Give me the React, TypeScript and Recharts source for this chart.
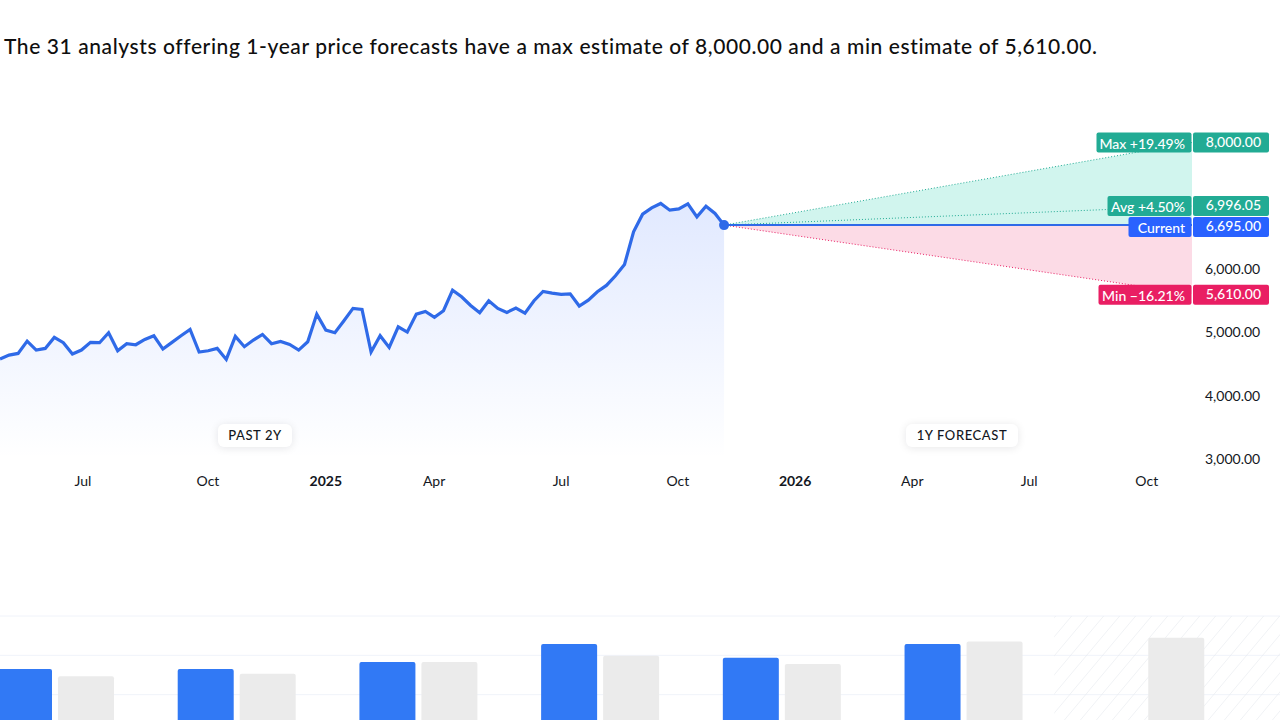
import React from "react";
import {
  Area, Bar, BarChart, CartesianGrid, ComposedChart, Line, ReferenceArea, ReferenceDot, XAxis, YAxis,
} from "recharts";

const FONT = "Lato, 'Noto Sans', sans-serif";
const INK = "#131722";

const priceValues = [
  4579, 4642, 4668, 4863, 4721, 4747, 4921, 4837, 4658, 4721, 4842, 4837, 4995, 4710, 4821, 4805, 4889,
  4947, 4737, 4842, 4947, 5047, 4689, 4710, 4747, 4573, 4937, 4774, 4879, 4968, 4821, 4858, 4810, 4721,
  4852, 5289, 5037, 4995, 5184, 5379, 5363, 4689, 4947, 4763, 5089, 5005, 5289, 5331, 5237, 5342, 5668,
  5563, 5426, 5310, 5500, 5379, 5316, 5384, 5305, 5500, 5647, 5621, 5600, 5610, 5416, 5510, 5642, 5742,
  5894, 6073, 6589, 6868, 6968, 7037, 6931, 6952, 7031, 6826, 6994, 6879, 6695,
];
const lastWeek = 80;
const forecastWeek = 131.7;
const currentPrice = 6695;
const maxEstimate = 8000;
const avgEstimate = 6996.05;
const minEstimate = 5610;

const monthTicks = [9.17, 22.98, 36, 47.96, 61.99, 74.9, 87.85, 100.8, 113.7, 126.7];
const monthLabels = ["Jul", "Oct", "2025", "Apr", "Jul", "Oct", "2026", "Apr", "Jul", "Oct"];
const priceTicks = [3000, 4000, 5000, 6000];

// Q8 stays empty, it only carries the hatch out to the page edge
const quarters = ["Q1", "Q2", "Q3", "Q4", "Q5", "Q6", "Q7", "Q8"];
const actualBars = [165, 165, 183, 229, 194, 229, null, null];
const estimateBars = [147, 153, 183, 199, 178, 235, 245, null];
const barGrid = [100, 200, 300];

const priceRows = priceValues.map((price, week) => ({ week, price } as any));
Object.assign(priceRows[lastWeek], {
  up: [currentPrice, currentPrice], down: [currentPrice, currentPrice],
  max: currentPrice, avg: currentPrice, min: currentPrice, current: currentPrice,
});
const rows = [
  ...priceRows,
  {
    week: forecastWeek,
    up: [currentPrice, maxEstimate], down: [minEstimate, currentPrice],
    max: maxEstimate, avg: avgEstimate, min: minEstimate, current: currentPrice,
  },
];
const barRows = quarters.map((q, i) => ({ q, actual: actualBars[i], estimate: estimateBars[i] }));

const money = (v: number) => v.toLocaleString("en-US", { minimumFractionDigits: 2, maximumFractionDigits: 2 });

function MonthTick({ x, y, payload }: any) {
  const label = monthLabels[monthTicks.indexOf(payload.value)];
  const bold = label.length === 4;
  return (
    <text x={x} y={y} dy={7} textAnchor="middle" fontFamily={FONT} fontSize={14} fontWeight={bold ? 700 : 400} fill={INK}>
      {label}
    </text>
  );
}

function Tag({ cx, cy, label, value, color, labelWidth, shift = 0 }: any) {
  const mid = cy + shift;
  return (
    <g fontFamily={FONT} fontSize={14} fontWeight={500} fill="#fff">
      <rect x={1191.5 - labelWidth} y={mid - 10} width={labelWidth} height={20} rx={2} fill={color} />
      <rect x={1193} y={mid - 10} width={76} height={20} rx={2} fill={color} />
      <text x={1185} y={mid + 6} textAnchor="end" fill="#fff">{label}</text>
      <text x={1261} y={mid + 4} textAnchor="end" fill="#fff">{value}</text>
    </g>
  );
}

const pill: React.CSSProperties = {
  position: "absolute", top: 424, height: 23, lineHeight: "23px", textAlign: "center", background: "#fff",
  borderRadius: 6, boxShadow: "0 1px 8px rgba(19,23,34,0.10)", fontFamily: FONT, fontSize: 13, fontWeight: 500,
  letterSpacing: 0.6, color: INK,
};

export default function App() {
  return (
    <div style={{ position: "absolute", left: 0, top: 0, width: 1280, height: 720, overflow: "hidden", background: "#fff" }}>
      <div style={{ position: "absolute", left: 4, top: 31, whiteSpace: "nowrap", fontFamily: FONT, fontSize: 21, lineHeight: "30px", fontWeight: 500, letterSpacing: 0.58, color: "#0f0f0f" }}>
        The 31 analysts offering 1-year price forecasts have a max estimate of 8,000.00 and a min estimate of 5,610.00.
      </div>

      <div style={{ position: "absolute", left: 0, top: 0 }}>
        <ComposedChart width={1280} height={500} data={rows} margin={{ top: 142.5, right: 0, bottom: 0, left: 0 }}>
          <defs>
            <linearGradient id="priceFade" x1="0" y1="0" x2="0" y2="1">
              <stop offset="0%" stopColor="#2962ff" stopOpacity={0.14} />
              <stop offset="100%" stopColor="#2962ff" stopOpacity={0} />
            </linearGradient>
          </defs>
          <XAxis dataKey="week" type="number" domain={[0, forecastWeek]} ticks={monthTicks} interval={0} tick={<MonthTick />} tickLine={false} axisLine={false} tickMargin={14} height={41} />
          <YAxis orientation="right" width={88} domain={[3000, 8000]} ticks={priceTicks} tickFormatter={money} tick={{ fontFamily: FONT, fontSize: 14, fill: INK }} tickLine={false} axisLine={false} tickMargin={7} />
          <Area dataKey="up" stroke="none" fill="#d1f5ee" fillOpacity={1} isAnimationActive={false} />
          <Area dataKey="down" stroke="none" fill="#fcdbe6" fillOpacity={1} isAnimationActive={false} />
          <Area dataKey="price" stroke="#2f6ae8" strokeWidth={3.2} fill="url(#priceFade)" fillOpacity={1} dot={false} isAnimationActive={false} />
          <Line dataKey="max" stroke="#22ab94" strokeWidth={1} strokeDasharray="1 2" dot={false} isAnimationActive={false} />
          <Line dataKey="avg" stroke="#22ab94" strokeWidth={1} strokeDasharray="1 2" dot={false} isAnimationActive={false} />
          <Line dataKey="min" stroke="#e91e63" strokeWidth={1} strokeDasharray="1 2" dot={false} isAnimationActive={false} />
          <Line dataKey="current" stroke="#2f6ae8" strokeWidth={2} dot={false} isAnimationActive={false} />
          <ReferenceDot x={lastWeek} y={currentPrice} r={5} fill="#2f6ae8" stroke="none" />
          <ReferenceDot x={forecastWeek} y={maxEstimate} ifOverflow="visible" shape={(p: any) => <Tag {...p} label="Max +19.49%" value={money(maxEstimate)} color="#22ab94" labelWidth={95} />} />
          <ReferenceDot x={forecastWeek} y={avgEstimate} ifOverflow="visible" shape={(p: any) => <Tag {...p} label="Avg +4.50%" value={money(avgEstimate)} color="#22ab94" labelWidth={84} />} />
          <ReferenceDot x={forecastWeek} y={minEstimate} ifOverflow="visible" shape={(p: any) => <Tag {...p} label="Min −16.21%" value={money(minEstimate)} color="#e91e63" labelWidth={93} shift={1} />} />
          <ReferenceDot x={forecastWeek} y={currentPrice} ifOverflow="visible" shape={(p: any) => <Tag {...p} label="Current" value={money(currentPrice)} color="#2962ff" labelWidth={63} shift={2} />} />
        </ComposedChart>
      </div>

      <div style={{ ...pill, left: 218, width: 74 }}>PAST 2Y</div>
      <div style={{ ...pill, left: 906, width: 112 }}>1Y FORECAST</div>

      <div style={{ position: "absolute", left: 0, top: 615 }}>
        <BarChart width={1280} height={119} data={barRows} barSize={56} barGap={6} margin={{ top: 1, right: 0, bottom: 0, left: 0 }}>
          <defs>
            <pattern id="hatch" width="16" height="24" patternUnits="userSpaceOnUse" patternTransform="skewX(-40)">
              <line x1="0" y1="0" x2="0" y2="24" stroke="#e6e9ef" strokeWidth={1.2} />
            </pattern>
          </defs>
          <CartesianGrid vertical={false} stroke="#f0f3fa" horizontalValues={barGrid} />
          <XAxis dataKey="q" hide padding={{ left: -36, right: -137.67 }} />
          <YAxis hide domain={[0, 300]} />
          <ReferenceArea x1="Q7" fill="url(#hatch)" fillOpacity={1} stroke="none" ifOverflow="visible" />
          <Bar dataKey="actual" fill="#3179f5" radius={[2, 2, 0, 0]} isAnimationActive={false} />
          <Bar dataKey="estimate" fill="#ebebeb" radius={[2, 2, 0, 0]} isAnimationActive={false} />
        </BarChart>
      </div>
    </div>
  );
}
